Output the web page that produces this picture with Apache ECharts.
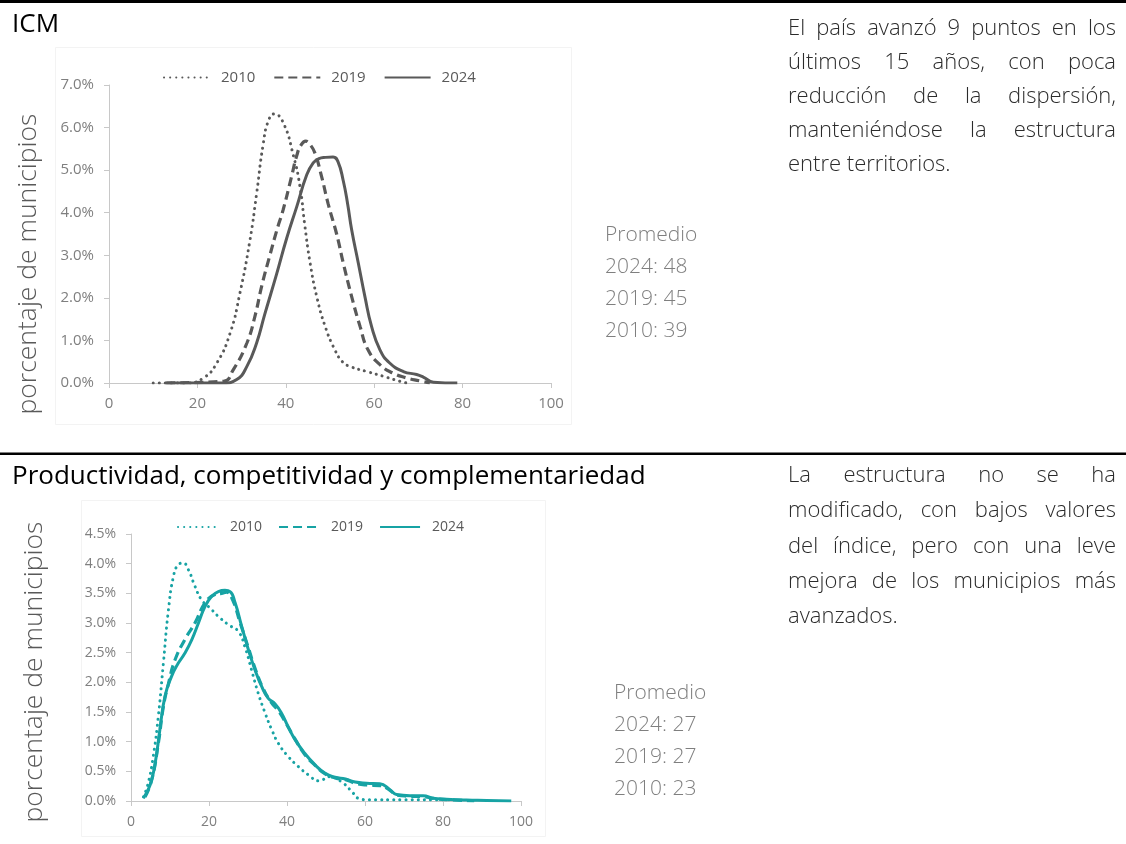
<!DOCTYPE html>
<html><head><meta charset="utf-8">
<script src="https://cdn.jsdelivr.net/npm/echarts@6/dist/echarts.min.js"></script>
<style>html,body{margin:0;padding:0;background:#fff}#c{width:1126px;height:844px}</style>
</head><body><div id="c"></div>
<script>
// ---------- DATA ----------
const seriesYears = ['2010', '2019', '2024'];

// ICM (top panel): x = index value, y = % of municipalities
const icm2010X = [10, 17.6, 21.4, 24.4, 27.4, 29.6, 31.9, 33.4, 34.9, 36.1, 37.4, 39.4, 41.7, 43.2, 44.3, 45.5, 47, 48.9, 51.1, 52.8, 54.5, 58.3, 62, 65.8, 67.3];
const icm2010Y = [0, 0, 0.12, 0.47, 1.17, 2.1, 3.36, 4.45, 5.62, 6.17, 6.32, 6.12, 5.35, 4.62, 3.7, 2.82, 2.03, 1.33, 0.78, 0.5, 0.39, 0.27, 0.16, 0.04, 0];
const icm2019X = [13, 25.9, 28.1, 31.2, 33.0, 34.6, 36.4, 38, 39.4, 41.3, 42.5, 43.4, 44.5, 45.5, 46.6, 48.1, 49.6, 51.5, 53, 54.9, 56.8, 58.6, 61.3, 64.3, 67.3, 70.3, 72.6];
const icm2019Y = [0, 0.04, 0.31, 0.94, 1.56, 2.3, 3.0, 3.6, 4.07, 4.85, 5.35, 5.58, 5.68, 5.6, 5.4, 4.85, 4.2, 3.5, 2.82, 2.03, 1.33, 0.78, 0.43, 0.23, 0.12, 0.05, 0];
const icm2024X = [12.8, 25.9, 28.9, 31.2, 33.4, 35.2, 37.9, 40.2, 42.5, 44.7, 46.2, 47.5, 49, 50.7, 51.8, 53, 54, 54.9, 56.4, 57.9, 59.4, 61.3, 63.5, 66.6, 69.6, 71.1, 73.4, 78.8];
const icm2024Y = [0, 0, 0.08, 0.39, 0.94, 1.6, 2.55, 3.4, 4.15, 4.88, 5.17, 5.27, 5.3, 5.31, 5.2, 4.75, 4.2, 3.6, 2.82, 2.03, 1.33, 0.78, 0.47, 0.27, 0.2, 0.14, 0.02, 0];

// Productividad, competitividad y complementariedad (bottom panel)
const pcc2010X = [3.2, 4.4, 5.7, 7, 8.3, 9.6, 10.9, 12.1, 13.4, 14.7, 16.4, 18.1, 20.3, 22.4, 25, 27.5, 29.2, 30.9, 32.6, 34.4, 36.1, 37.8, 40.3, 42.9, 45.5, 48.2, 51, 54.4, 56.6, 58.5, 61, 70, 83];
const pcc2010Y = [0.07, 0.3, 0.75, 1.42, 2.32, 3.22, 3.79, 3.98, 4.01, 3.9, 3.62, 3.39, 3.25, 3.11, 2.97, 2.86, 2.6, 2.21, 1.82, 1.48, 1.2, 0.97, 0.75, 0.58, 0.44, 0.34, 0.41, 0.3, 0.16, 0.04, 0.02, 0.02, 0.02];
const pcc2019X = [3.6, 5.3, 7, 8.3, 9.6, 11.3, 13.8, 16.4, 19, 21.5, 23.2, 24.5, 26, 28, 30, 32, 34, 36, 38, 40, 42, 44.6, 47.2, 49.7, 52.3, 55, 57.5, 60.4, 63.8, 66.4, 68.1, 71.5, 75, 78, 82, 88];
const pcc2019Y = [0.07, 0.35, 0.97, 1.59, 1.98, 2.38, 2.72, 3.0, 3.34, 3.48, 3.5, 3.52, 3.4, 3.0, 2.6, 2.2, 1.88, 1.66, 1.5, 1.28, 1.05, 0.78, 0.6, 0.46, 0.39, 0.36, 0.3, 0.27, 0.26, 0.18, 0.1, 0.08, 0.07, 0.04, 0.02, 0];
const pcc2024X = [3.2, 4.9, 6.2, 7.4, 8.7, 10.4, 12.1, 13.8, 15.6, 17.3, 19, 20.7, 22.4, 24.1, 25.4, 26.7, 28.4, 30.1, 31.8, 33.5, 35.2, 36.9, 38.6, 40.3, 42.1, 44.6, 47.2, 49.7, 52.3, 55, 57.5, 60.4, 63.8, 66.4, 68.1, 71.5, 74.9, 77.5, 80.9, 86, 91.2, 97.5];
const pcc2024Y = [0.05, 0.27, 0.64, 1.2, 1.76, 2.1, 2.32, 2.49, 2.72, 3.0, 3.28, 3.45, 3.53, 3.55, 3.53, 3.34, 2.94, 2.55, 2.21, 1.93, 1.73, 1.64, 1.48, 1.25, 1.03, 0.8, 0.61, 0.47, 0.4, 0.37, 0.32, 0.3, 0.29, 0.19, 0.11, 0.09, 0.09, 0.045, 0.03, 0.017, 0.01, 0];

// Texts
const titleTop = 'ICM';
const titleBottom = 'Productividad, competitividad y complementariedad';
const axisTitle = 'porcentaje de municipios';
const paraTop = ['El país avanzó 9 puntos en los', 'últimos 15 años, con poca', 'reducción de la dispersión,', 'manteniéndose la estructura', 'entre territorios.'];
const paraBottom = ['La estructura no se ha', 'modificado, con bajos valores', 'del índice, pero con una leve', 'mejora de los municipios más', 'avanzados.'];
const avgTop = ['Promedio', '2024: 48', '2019: 45', '2010: 39'];
const avgBottom = ['Promedio', '2024: 27', '2019: 27', '2010: 23'];

// ---------- RENDER ----------
const FAM = "'Open Sans','Noto Sans',sans-serif";
const GRAY = '#595959', TEAL = '#17A3A4';
const ctx = document.createElement('canvas').getContext('2d');
function measure(t, font) { ctx.font = font; return ctx.measureText(t).width; }
function fitSize(lines, weight, maxW, maxSize) {
  let s = maxSize;
  while (s > 8) {
    const f = weight + ' ' + s + 'px ' + FAM;
    if (Math.max(...lines.map(l => measure(l, f))) <= maxW) break;
    s -= 0.25;
  }
  return s;
}
function paragraph(lines, x0, w, y0, lh, size, color, weight, justify) {
  const font = weight + ' ' + size + 'px ' + FAM;
  const out = [];
  lines.forEach((line, i) => {
    const y = y0 + i * lh;
    const words = line.split(' ');
    if (!justify || i === lines.length - 1 || words.length < 2) {
      out.push({ type: 'text', x: x0, y: y, style: { text: line, font: font, fill: color, align: 'left', verticalAlign: 'middle' } });
      return;
    }
    const ws = words.map(wd => measure(wd, font));
    const gap = (w - ws.reduce((a, b) => a + b, 0)) / (words.length - 1);
    let x = x0;
    words.forEach((wd, k) => {
      out.push({ type: 'text', x: x, y: y, style: { text: wd, font: font, fill: color, align: 'left', verticalAlign: 'middle' } });
      x += ws[k] + gap;
    });
  });
  return out;
}
const pairs = (xs, ys) => xs.map((x, i) => [x, ys[i]]);

const paraSize = fitSize(paraTop.slice(0, 4).concat(paraBottom.slice(1, 4)), 300, 326, 22);
const title2Size = fitSize([titleBottom], 400, 640, 26);
const axisTitleSize = fitSize([axisTitle], 300, 302, 30);

const graphics = [
  { type: 'rect', shape: { x: 0, y: 0, width: 1126, height: 3 }, style: { fill: '#000' } },
  { type: 'rect', shape: { x: 0, y: 452.5, width: 1126, height: 2.5 }, style: { fill: '#000' } },
  { type: 'rect', shape: { x: 55.5, y: 47.5, width: 516, height: 377 }, style: { fill: 'none', stroke: '#f3f3f3', lineWidth: 1 } },
  { type: 'rect', shape: { x: 81.5, y: 500.5, width: 464, height: 336 }, style: { fill: 'none', stroke: '#f3f3f3', lineWidth: 1 } },
  { type: 'text', x: 12, y: 25, style: { text: titleTop, font: '400 26px ' + FAM, fill: '#000', verticalAlign: 'middle' } },
  { type: 'text', x: 12, y: 477, style: { text: titleBottom, font: '400 ' + title2Size + 'px ' + FAM, fill: '#000', verticalAlign: 'middle' } },
  { type: 'text', x: 28, y: 264, rotation: Math.PI / 2, style: { text: axisTitle, font: '300 ' + axisTitleSize + 'px ' + FAM, fill: GRAY, align: 'center', verticalAlign: 'middle' } },
  { type: 'text', x: 34, y: 672, rotation: Math.PI / 2, style: { text: axisTitle, font: '300 ' + axisTitleSize + 'px ' + FAM, fill: GRAY, align: 'center', verticalAlign: 'middle' } }
]
  .concat(paragraph(paraTop, 788, 328, 29, 34, paraSize, '#2b2b2b', 300, true))
  .concat(paragraph(paraBottom, 788, 328, 476, 35.2, paraSize, '#2b2b2b', 300, true))
  .concat(paragraph(avgTop, 605, 300, 235, 32, 21, '#7f7f7f', 300, false))
  .concat(paragraph(avgBottom, 614, 300, 693, 32, 21, '#7f7f7f', 300, false));

const styles = {
  '2010': (c) => ({ color: c, width: 3, type: [0.1, 6], cap: 'round' }),
  '2019': (c) => ({ color: c, width: 3.2, type: [9, 5], cap: 'butt' }),
  '2024': (c) => ({ color: c, width: 3, type: 'solid' })
};
function mk(name, yr, xs, ys, idx, color) {
  return {
    name: name, type: 'line', xAxisIndex: idx, yAxisIndex: idx,
    data: pairs(xs, ys), smooth: 0.5, symbol: 'none', showSymbol: false,
    color: color, lineStyle: styles[yr](color), z: yr === '2024' ? 3 : 2
  };
}
const axisLine = { show: true, lineStyle: { color: '#c8c8c8', width: 1 } };
function xAx(idx, fs) {
  return { type: 'value', gridIndex: idx, min: 0, max: 100, interval: 20, splitLine: { show: false },
    axisLine: axisLine, axisTick: { show: true, length: 5, lineStyle: { color: '#c8c8c8' } },
    axisLabel: { color: '#7f7f7f', fontSize: fs, fontFamily: FAM, margin: idx === 0 ? 13 : 14 } };
}
function yAx(idx, max, iv, fs) {
  return { type: 'value', gridIndex: idx, min: 0, max: max, interval: iv, splitLine: { show: false },
    axisLine: axisLine, axisTick: { show: true, length: 5, lineStyle: { color: '#c8c8c8' } },
    axisLabel: { color: '#7f7f7f', fontSize: fs, fontFamily: FAM, margin: 15, formatter: v => v.toFixed(1) + '%' } };
}

const chart = echarts.init(document.getElementById('c'), null, { renderer: 'canvas' });
chart.setOption({
  animation: false,
  backgroundColor: '#fff',
  grid: [
    { left: 109, top: 85, width: 442, height: 298 },
    { left: 131, top: 534, width: 390, height: 267 }
  ],
  xAxis: [xAx(0, 15), xAx(1, 14)],
  yAxis: [yAx(0, 7, 1, 15), yAx(1, 4.5, 0.5, 14)],
  legend: [
    { data: seriesYears.map(y => 'a' + y), left: 158, top: 65, itemWidth: 46, itemHeight: 14, itemGap: 18,
      itemStyle: { opacity: 0 },
      formatter: n => n.slice(1), textStyle: { color: GRAY, fontSize: 15, fontFamily: FAM, padding: [0, 0, 0, 6] } },
    { data: seriesYears.map(y => 'b' + y), left: 172, top: 515, itemWidth: 40, itemHeight: 14, itemGap: 16,
      itemStyle: { opacity: 0 },
      formatter: n => n.slice(1), textStyle: { color: GRAY, fontSize: 14, fontFamily: FAM, padding: [0, 0, 0, 7] } }
  ],
  series: [
    mk('a2010', '2010', icm2010X, icm2010Y, 0, GRAY),
    mk('a2019', '2019', icm2019X, icm2019Y, 0, GRAY),
    mk('a2024', '2024', icm2024X, icm2024Y, 0, GRAY),
    mk('b2010', '2010', pcc2010X, pcc2010Y, 1, TEAL),
    mk('b2019', '2019', pcc2019X, pcc2019Y, 1, TEAL),
    mk('b2024', '2024', pcc2024X, pcc2024Y, 1, TEAL)
  ],
  graphic: graphics
});
</script>
</body></html>
